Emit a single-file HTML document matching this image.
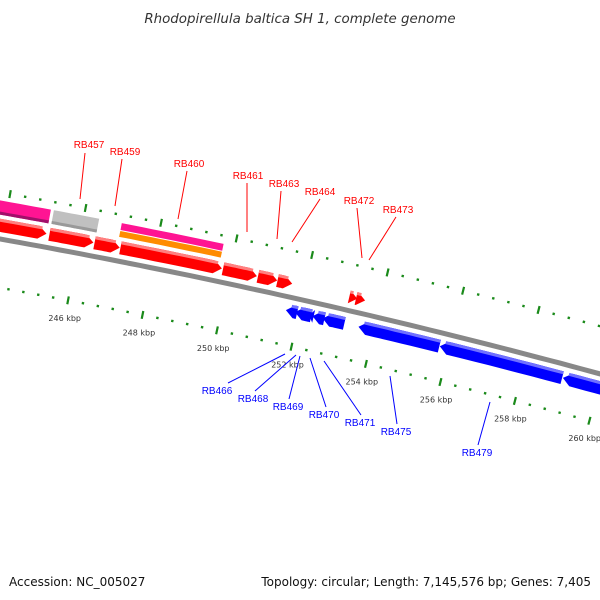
<!DOCTYPE html>
<html><head><meta charset="utf-8"><style>
html,body{margin:0;padding:0;background:#fff;}
svg{display:block;font-family:"DejaVu Sans","Liberation Sans",sans-serif;}
</style></head><body>
<svg id="chart" width="600" height="600" viewBox="0 0 600 600">
<text x="300" y="23" text-anchor="middle" font-size="13.4" font-style="italic" fill="#333">Rhodopirellula baltica SH 1, complete genome</text>
<g id="ticks"></g>
<path id="backbone" fill="none" stroke="#888" stroke-width="5"/>
<g id="genes"></g>
<g id="labels"></g>
<text x="9" y="586" font-size="12" fill="#111">Accession: NC_005027</text>
<text x="591" y="586" font-size="12" fill="#111" text-anchor="end">Topology: circular; Length: 7,145,576 bp; Genes: 7,405</text>
</svg>
<script>
const tickKbp = [244,246,248,250,252,254,256,258,260,262];
const labelKbp = [246,248,250,252,254,256,258,260];
const fwdStart = [243.0,245.2,246.4,247.09,249.82,250.75,251.27,253.18,253.36];
const fwdEnd   = [245.12,246.37,247.07,249.79,250.72,251.26,251.66,253.39,253.6];
const revStart = [251.65,251.89,252.27,252.36,252.63,253.59,255.76,259.05];
const revEnd   = [251.95,252.33,252.39,252.68,253.21,255.75,259.03,261.0];
const outerStart = [243.0,245.2];
const outerEnd = [245.12,246.4];
const outerColors = ['#ff1493','#c0c0c0'];
const splitStart = [247.0];
const splitEnd = [249.7];
const fwdNames = [['RB457',89,148,85,153,80,199],['RB459',125,155,122,159,115,206],['RB460',189,167,187,171,178,219],['RB461',248,179,247,183,247,232],['RB463',284,187,281,191,277,239],['RB464',320,195,320,199,292,242],['RB472',359,204,357,208,362,258],['RB473',398,213,396,217,369,260]];
const revNames = [['RB466',217,394,228,383,285,354],['RB468',253,402,255,391,296,355],['RB469',288,410,289,399,300,356],['RB470',324,418,326,407,310,358],['RB471',360,426,361,415,324,361],['RB475',396,435,397,424,390,376],['RB479',477,456,478,445,490,402]];

const NS='http://www.w3.org/2000/svg';
function f(x){return 239+0.178*x+7.8e-5*x*x;}
function fs(x){return 0.178+1.56e-4*x;}
function xb(k){return 77+(k-246)*37.5;}
function P(k,d){const x=xb(k),s=fs(x),n=Math.sqrt(1+s*s);return [x+d*s/n, f(x)-d/n];}
function mk(tag,attrs,parent){const e=document.createElementNS(NS,tag);for(const a in attrs)e.setAttribute(a,attrs[a]);parent.appendChild(e);return e;}
function pts(a){return a.map(p=>p[0].toFixed(1)+','+p[1].toFixed(1)).join(' ');}

let bd='';for(let x=-20;x<=620;x+=10){bd+=(x===-20?'M':'L')+x+','+f(x).toFixed(1);}
document.getElementById('backbone').setAttribute('d',bd);

const tg=document.getElementById('ticks');
for(let k=243.2;k<=262.1;k+=0.4){
  const kk=Math.round(k*10)/10;
  const major=Math.abs(kk/2-Math.round(kk/2))<0.01;
  [46,-48].forEach(d=>{
    let a,b;
    if(major){a=P(kk,d-4);b=P(kk,d+4);}else{a=P(kk,d-1.2);b=P(kk,d+1.2);}
    const l=mk('line',{x1:a[0],y1:a[1],x2:b[0],y2:b[1],stroke:'#1a8a1a','stroke-width':major?2.2:2.4},tg);
    
    
  });
}
labelKbp.forEach(k=>{
  const p=P(k,-66);
  const t=mk('text',{x:p[0].toFixed(1),y:(p[1]+3).toFixed(1),'font-size':8,fill:'#333','text-anchor':'middle'},tg);
  t.textContent=k+' kbp';
  
  
});

const gg=document.getElementById('genes');
function band(k0,k1,d0,d1){const a=[];for(let i=0;i<=10;i++){a.push(P(k0+(k1-k0)*i/10,d1));}for(let i=10;i>=0;i--){a.push(P(k0+(k1-k0)*i/10,d0));}return a;}
function arrow(k0,k1,d0,d1,dir,fill,light,name){
  const head=8/37.5;const dm=(d0+d1)/2;
  let shape=[];
  if(dir>0){const kb=Math.max(k0,k1-head);
    for(let i=0;i<=8;i++)shape.push(P(k0+(kb-k0)*i/8,d1));shape.push(P(k1,dm));for(let i=8;i>=0;i--)shape.push(P(k0+(kb-k0)*i/8,d0));}
  else{const kb=Math.min(k1,k0+head);
    shape.push(P(k0,dm));for(let i=0;i<=8;i++)shape.push(P(kb+(k1-kb)*i/8,d1));for(let i=8;i>=0;i--)shape.push(P(kb+(k1-kb)*i/8,d0));}
  const e=mk('polygon',{points:pts(shape),fill:fill},gg);
  
  
  const hk0=dir>0?k0:Math.min(k1,k0+head*0.6), hk1=dir>0?Math.max(k0,k1-head*0.6):k1;
  const h=mk('polygon',{points:pts(band(hk0,hk1,d1-3,d1)),fill:light},gg);
  
  
}
fwdStart.forEach((s,i)=>arrow(s,fwdEnd[i],7,20,1,'#ff0000','#ff8080','forward-gene'));
revStart.forEach((s,i)=>arrow(s,revEnd[i],-20,-7,-1,'#0000ff','#7070ff','reverse-gene'));
outerStart.forEach((s,i)=>{
  const e=mk('polygon',{points:pts(band(s,outerEnd[i],24,38)),fill:outerColors[i]},gg);
  
  
  const h=mk('polygon',{points:pts(band(s,outerEnd[i],24,27)),fill:i?'#999':'#a0106a'},gg);
  
  
});
splitStart.forEach((s,i)=>{
  const a=mk('polygon',{points:pts(band(s,splitEnd[i],31,38)),fill:'#ff1493'},gg);
  
  
  const b=mk('polygon',{points:pts(band(s,splitEnd[i],24,30)),fill:'#ff8c00'},gg);
  
  
});

const lg=document.getElementById('labels');
function lab(arr,col){arr.forEach(r=>{
  const l=mk('line',{x1:r[3],y1:r[4],x2:r[5],y2:r[6],stroke:col,'stroke-width':1},lg);
  
  
  const t=mk('text',{x:r[1],y:r[2],'font-size':10,fill:col,'text-anchor':'middle','font-family':'Liberation Sans, sans-serif'},lg);
  t.textContent=r[0];
  
  
});}
lab(fwdNames,'#ff0000');lab(revNames,'#0000ff');
</script>
</body></html>
